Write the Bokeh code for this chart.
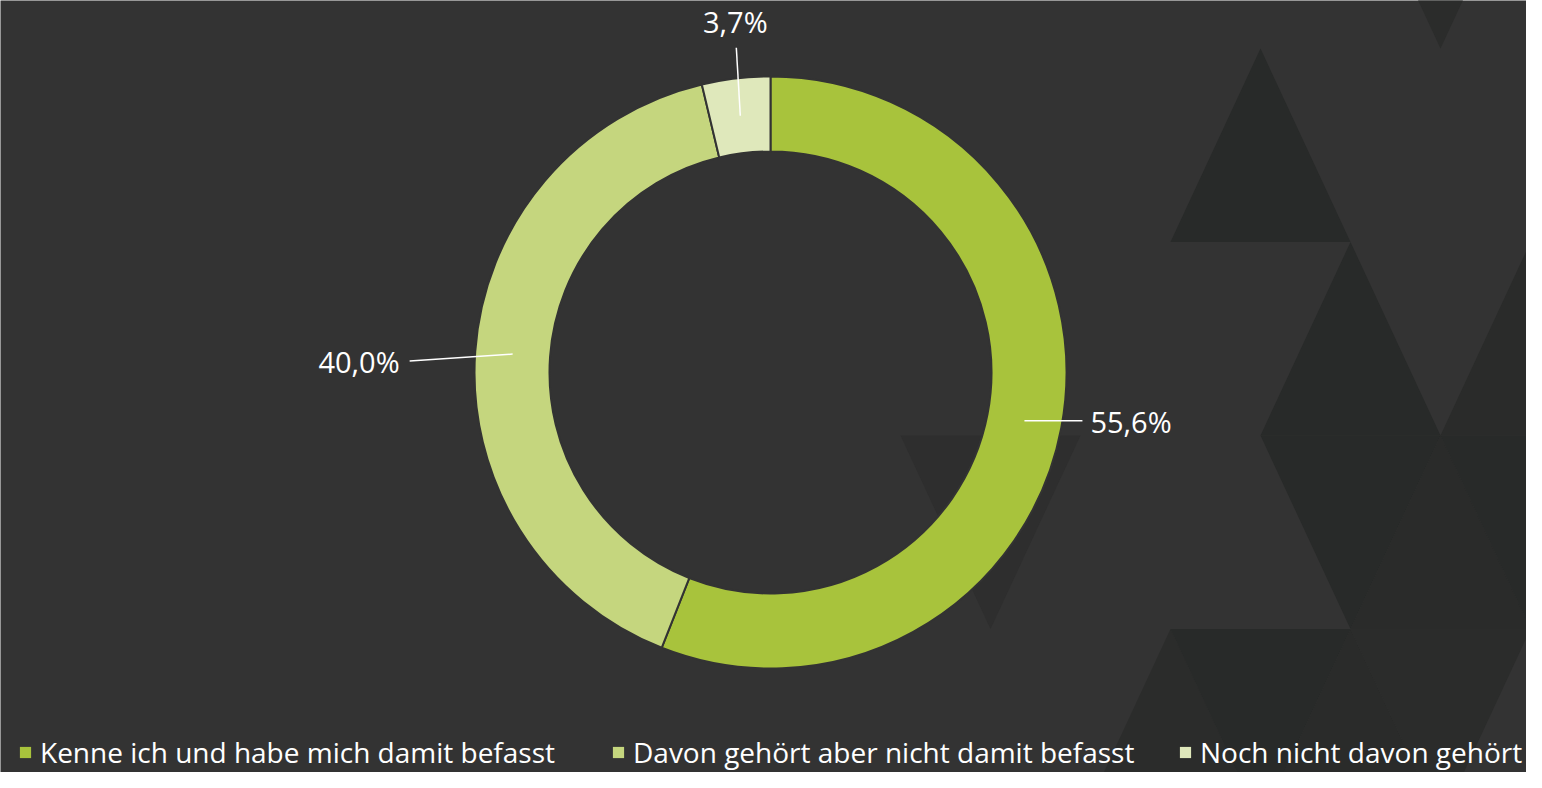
import math
from bokeh.plotting import figure
from bokeh.models import Range1d, Legend, LegendItem, ColumnDataSource
from bokeh.core.properties import value
from bokeh.embed import file_html
from bokeh.resources import INLINE

# ---- data ----
categories = ["Kenne ich und habe mich damit befasst",
              "Davon gehört aber nicht damit befasst",
              "Noch nicht davon gehört"]
shares = [55.6, 40.0, 3.7]
share_labels = ["55,6%", "40,0%", "3,7%"]
colors = ["#a8c33c", "#c5d67e", "#dfe8bb"]

# ---- layout / style ----
W, H = 1526, 772
BG = "#333333"
FONT = "Open Sans"


def py(page_y):
    return H - page_y


CX, CY = 770, py(372)
R_IN, R_OUT = 221, 296

p = figure(width=W, height=H, output_backend="svg", toolbar_location=None,
           x_range=Range1d(0, W), y_range=Range1d(0, H),
           x_axis_location=None, y_axis_location=None, min_border=0)
p.background_fill_color = BG
p.border_fill_color = BG
p.outline_line_color = None
p.grid.visible = False

# decorative background triangles (row, column vertex, orientation, shade)
tri_rows = [0, 1, 2, 2, 3, 3, 3, 3, 4, 4, 4, 4]
tri_cols = [3, 1, 2, 4, 2, 3, 4, -2, 0, 1, 2, 3]
tri_up = [False, True, True, True, False, True, False, False, True, False, True, False]
tri_shade = ["#2b2c2b", "#282a29", "#282a29", "#2a2b2a", "#282a29", "#2a2b2a",
             "#282a29", "#2e2e2e", "#2b2c2b", "#282a29", "#2a2b2a", "#2b2c2b"]
TH, TW = 193.5, 90
xs, ys = [], []
for r, k, up in zip(tri_rows, tri_cols, tri_up):
    top = 48 + (r - 1) * TH
    bot = top + TH
    xk = 1170 + 90 * k
    if up:
        xs.append([xk, xk - TW, xk + TW])
        ys.append([py(top), py(bot), py(bot)])
    else:
        xs.append([xk - TW, xk + TW, xk])
        ys.append([py(top), py(top), py(bot)])
p.patches(xs=xs, ys=ys, fill_color=tri_shade, line_color=None)

# donut
total = sum(shares)
starts, ends, mids = [], [], []
cum = 0.0
for v in shares:
    starts.append(math.pi / 2 - 2 * math.pi * cum / total)
    mids.append(math.pi / 2 - 2 * math.pi * (cum + v / 2) / total)
    cum += v
    ends.append(math.pi / 2 - 2 * math.pi * cum / total)

src = ColumnDataSource(dict(x=[CX] * 3, y=[CY] * 3, start=starts, end=ends,
                            color=colors, cat=categories))
p.annular_wedge(x="x", y="y", inner_radius=R_IN, outer_radius=R_OUT,
                start_angle="start", end_angle="end", direction="clock",
                fill_color="color", line_color=BG, line_width=2, source=src)

# leader lines and labels
R_MID = (R_IN + R_OUT) / 2
line_off = [(58, 0), (-103, -7), (-4, 68)]      # (dx, dy) in px, y up
text_off = [(8, -1), (-10, 0), (-1, 26)]
aligns = ["left", "right", "center"]
for i, m in enumerate(mids):
    ax = CX + R_MID * math.cos(m)
    ay = CY + R_MID * math.sin(m)
    ex, ey = ax + line_off[i][0], ay + line_off[i][1]
    p.line([ax, ex], [ay, ey], line_color="white", line_width=1.5)
    p.text(x=[ex + text_off[i][0]], y=[ey + text_off[i][1]], text=[share_labels[i]],
           text_font=value(FONT), text_font_size="29px", text_color="white",
           text_align=aligns[i], text_baseline="middle")

# legend: one entry per category (swatch renderers sit outside the view)
legend_x = [18, 611, 1178]
for i, cat in enumerate(categories):
    swatch = p.quad(left=[-1000], right=[-990], bottom=[-1000], top=[-990],
                    fill_color=colors[i], line_color=None)
    leg = Legend(items=[LegendItem(label=cat, renderers=[swatch])],
                 location=(legend_x[i], 1), orientation="horizontal",
                 glyph_width=14, glyph_height=14, label_standoff=8,
                 padding=0, margin=0, spacing=0,
                 background_fill_alpha=0, border_line_alpha=0,
                 label_text_font=FONT, label_text_font_size="28px",
                 label_text_color="white")
    p.add_layout(leg)

open("out.html", "w").write(file_html(p, INLINE))
